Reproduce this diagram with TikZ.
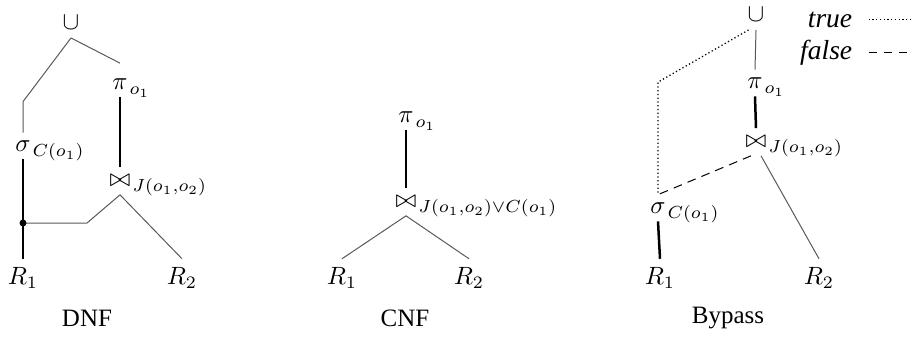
\documentclass[tikz,border=0pt]{standalone}
\usepackage{amsmath}
\usepackage{amssymb}
\usepackage[no-math]{fontspec}
\setmainfont{Liberation Serif}
\usetikzlibrary{positioning, calc}

\begin{document}
\begin{tikzpicture}[x=0.4pt, y=-0.4pt,
	op/.style={inner sep=3pt},
	sub/.style={anchor=mid west, inner sep=0pt, xshift=-2.6pt, yshift=-2pt},
	legend/.style={anchor=base east, font=\fontsize{11}{13}\selectfont\itshape},
	thinedge/.style={draw=black!65, line width=0.4pt},
	thickedge/.style={line width=1pt},
	dotedge/.style={line width=0.5pt, dash pattern=on 0.5pt off 1pt},
	dashedge/.style={line width=0.4pt, dash pattern=on 3.5pt off 2.5pt}]
				\useasboundingbox (0,0) rectangle (913,336);
				
				\node[op] (u1) at (71,23) {$\cup$};
				\node[op] (pi1) at (120,84) {$\pi$};
				\node[sub] at (pi1.east) {$\scriptstyle o_1$};
				\node[op] (bt1) at (120,181) {$\bowtie$};
				\node[sub] at (bt1.east) {$\scriptstyle J(o_1,o_2)$};
				\node[op] (sig1) at (23,146) {$\sigma$};
				\node[sub] at (sig1.east) {$\scriptstyle C(o_1)$};
				\node (r1) at (23,278) {$R_1$};
				\node (r2) at (182,278) {$R_2$};
				\node (dnf) at (87,318) {DNF};
				\coordinate (mrg) at (23,223);
				
				\draw[thinedge] (u1.south) -- ([yshift=12.4pt]sig1.north) -- (sig1.north);
				\draw[thinedge] (u1.south) -- ([yshift=3pt]pi1.north);
				\draw[thickedge] (pi1.south) -- (bt1.north);
				\draw[thinedge] (bt1.south) -- ([xshift=25.6pt]mrg) -- (mrg);
				\draw[thinedge] (bt1.south) -- (r2.north);
				\draw[thickedge] (sig1.south) -- (r1.north);
				\fill (mrg) circle (1.4pt);
				
				\node[op] (pi2) at (406,117) {$\pi$};
				\node[sub] at (pi2.east) {$\scriptstyle o_1$};
				\node[op] (bt2) at (406,202) {$\bowtie$};
				\node[sub] at (bt2.east) {$\scriptstyle J(o_1,o_2)\vee C(o_1)$};
				\node (r3) at (342,278) {$R_1$};
				\node (r4) at (469,278) {$R_2$};
				\node (cnf) at (405,318) {CNF};
				
				\draw[thickedge] (pi2.south) -- (bt2.north);
				\draw[thinedge] (bt2.south) -- (r3.north);
				\draw[thinedge] (bt2.south) -- (r4.north);
				
				\node[op] (u2) at (756,15) {$\cup$};
				\node[op] (pi3) at (755,83) {$\pi$};
				\node[sub] at (pi3.east) {$\scriptstyle o_1$};
				\node[op] (bt3) at (756,142) {$\bowtie$};
				\node[sub] at (bt3.east) {$\scriptstyle J(o_1,o_2)$};
				\node[op] (sig2) at (658,208) {$\sigma$};
				\node[sub] at (sig2.east) {$\scriptstyle C(o_1)$};
				\node (r5) at (660,278) {$R_1$};
				\node (r6) at (819,278) {$R_2$};
				\node (byp) at (728,318) {Bypass};
				\node[legend] (tru) at (861,27) {true};
				\node[legend] (fls) at (861,59) {false};
				
				\draw[thinedge] (u2.south) -- (pi3.north);
				\draw[thickedge] (pi3.south) -- (bt3.north);
				\draw[thinedge] ([xshift=2pt]bt3.south) -- (r6.north);
				\draw[thickedge] (sig2.south) -- (r5.north);
				\draw[dotedge] ([xshift=-3pt]u2.south) -- ([yshift=45pt]sig2.north) -- (sig2.north);
				\draw[dashedge] ([xshift=-2pt]bt3.south) -- (sig2.north);
				\draw[dotedge] ([xshift=3pt]tru.east) -- ++(42,0);
				\draw[dashedge] ([xshift=3pt]fls.east) -- ++(42,0);
			\end{tikzpicture}
\end{document}
